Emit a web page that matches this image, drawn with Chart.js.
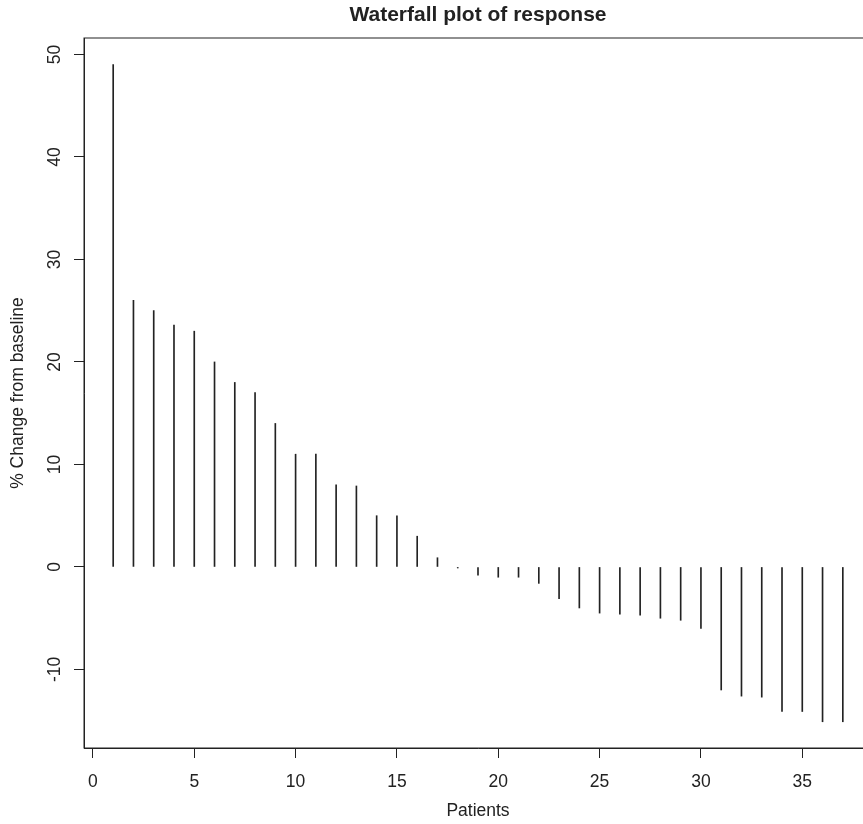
<!DOCTYPE html>
<html>
<head>
<meta charset="utf-8">
<script src="https://cdn.jsdelivr.net/npm/chart.js@4"></script>
<style>
  html, body { margin: 0; padding: 0; background: #fff; overflow: hidden; }
  #wrap { width: 890px; height: 824px; }
</style>
</head>
<body>
<div id="wrap"><canvas id="waterfall" width="890" height="824"></canvas></div>
<script>
// waterfall of best response, one spike per patient
const patients = [1, 2, 3, 4, 5, 6, 7, 8, 9, 10, 11, 12, 13, 14, 15, 16, 17, 18, 19,
    20, 21, 22, 23, 24, 25, 26, 27, 28, 29, 30, 31, 32, 33, 34, 35, 36, 37];
const changePct = [49, 26, 25, 23.6, 23, 20, 18, 17, 14, 11, 11, 8, 7.9, 5, 5, 3, 0.9, -0.1, -0.8,
    -1, -1, -1.6, -3.1, -4, -4.5, -4.6, -4.7, -5, -5.2, -6, -12, -12.6, -12.7, -14.1, -14.1, -15.1, -15.1];
const xTicks = [0, 5, 10, 15, 20, 25, 30, 35];
const yTicks = [-10, 0, 10, 20, 30, 40, 50];

const INK = '#222';
const FONT = 'Liberation Sans, Arial, sans-serif';

// R style limits: data range plus 4% each side
const xMin = -0.44, xMax = 38.44;
const yMin = -17.66, yMax = 51.6;

// box around the plot region + rotated y tick labels (R draws them parallel to axis)
const boxPlugin = {
    id: 'box',
    afterDraw(chart) {
        const { ctx, chartArea: a } = chart;
        const y = chart.scales.y;
        ctx.save();
        ctx.strokeStyle = INK;
        ctx.lineWidth = 1;
        ctx.strokeRect(a.left, a.top, a.right - a.left, a.bottom - a.top);
        ctx.fillStyle = INK;
        ctx.font = '17.5px ' + FONT;
        ctx.textAlign = 'center';
        ctx.textBaseline = 'middle';
        y.ticks.forEach(t => {
            ctx.save();
            ctx.translate(55, y.getPixelForValue(t.value));
            ctx.rotate(-Math.PI / 2);
            ctx.fillText(String(t.value), 0, 0);
            ctx.restore();
        });
        ctx.restore();
    }
};

function initChart() {
    const ctx = document.getElementById('waterfall');
    new Chart(ctx.getContext('2d'), {
        type: 'bar',
        data: {
            datasets: [{
                label: 'Change',
                data: patients.map((p, i) => ({ x: p, y: changePct[i] })),
                backgroundColor: INK,
                borderWidth: 0,
                barThickness: 1
            }]
        },
        options: {
            responsive: false,
            animation: false,
            layout: { padding: { left: 0, right: 18, top: 0, bottom: 0 } },
            scales: {
                x: {
                    type: 'linear',
                    min: xMin,
                    max: xMax,
                    offset: false,
                    afterBuildTicks: s => { s.ticks = xTicks.map(v => ({ value: v })); },
                    afterFit: s => { s.height = 76; },
                    grid: { offset: false, drawOnChartArea: false, drawTicks: true, tickLength: 10, tickColor: INK, color: INK },
                    border: { display: true, color: INK },
                    ticks: { color: INK, font: { family: FONT, size: 17.5 }, padding: 14, maxRotation: 0 },
                    title: { display: true, text: 'Patients', color: INK, font: { family: FONT, size: 17.5 }, padding: { top: 0, bottom: 2 } }
                },
                y: {
                    min: yMin,
                    max: yMax,
                    afterBuildTicks: s => { s.ticks = yTicks.map(v => ({ value: v })); },
                    afterFit: s => { s.width = 84; },
                    grid: { drawOnChartArea: false, drawTicks: true, tickLength: 10, tickColor: INK, color: INK },
                    border: { display: true, color: INK },
                    ticks: { display: false },
                    title: { display: true, text: '% Change from baseline', color: INK, font: { family: FONT, size: 17.5 }, padding: { top: 8, bottom: 0 } }
                }
            },
            plugins: {
                legend: { display: false },
                tooltip: { enabled: false },
                title: {
                    display: true,
                    fullSize: false,
                    text: 'Waterfall plot of response',
                    color: INK,
                    font: { family: FONT, size: 21, weight: 'bold' },
                    padding: { top: 3, bottom: 9.8 }
                }
            }
        },
        plugins: [boxPlugin]
    });
}

document.addEventListener('DOMContentLoaded', initChart);
</script>
</body>
</html>
